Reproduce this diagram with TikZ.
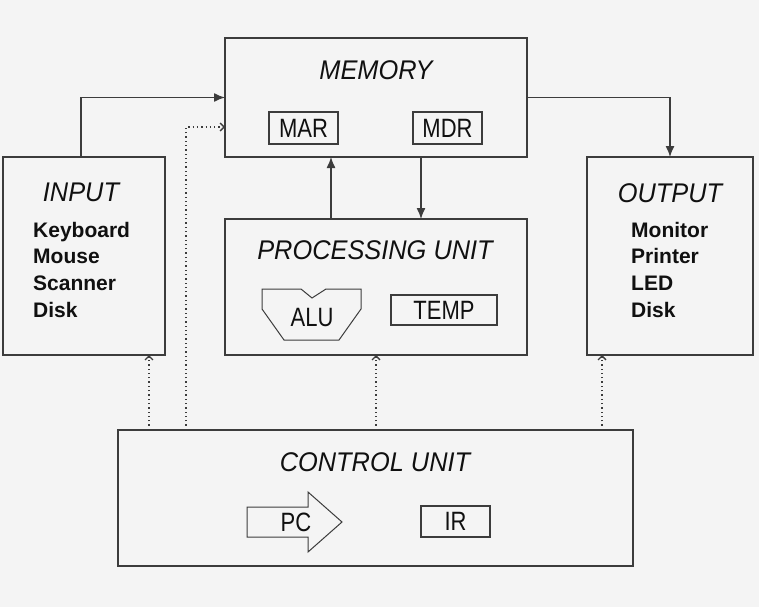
\documentclass[tikz,border=0pt]{standalone}
\usepackage{fontspec}
\setmainfont{Liberation Sans}
\newfontfamily\titlefont[FakeStretch=0.94]{Liberation Sans}
\newfontfamily\labfont[FakeStretch=0.83]{Liberation Sans}
\usetikzlibrary{arrows.meta}
\definecolor{bg}{HTML}{F4F4F4}
\definecolor{ln}{HTML}{3C3C3C}
\definecolor{tx}{HTML}{101010}
\begin{document}
\begin{tikzpicture}[x=1pt,y=-1pt,
  box/.style={draw=ln, line width=1.3pt, inner sep=0pt, outer sep=0pt},
  smallbox/.style={draw=ln, line width=1.2pt, inner sep=0pt, outer sep=0pt, text=tx, font=\labfont\fontsize{26.5}{28}\selectfont},
  title/.style={text=tx, inner sep=0pt, font=\titlefont\itshape\fontsize{27}{30}\selectfont},
  item/.style={text=tx, inner sep=0pt, anchor=base west, font=\bfseries\fontsize{21}{24}\selectfont},
  lab/.style={text=tx, inner sep=0pt, font=\labfont\fontsize{26.5}{28}\selectfont},
  shapeline/.style={draw=ln, line width=1pt},
  arr/.style={draw=ln, line width=1.3pt, -{Latex[length=11pt,width=9pt]}},
  dotarr/.style={draw=ln, line width=1.3pt, dash pattern=on 1.3pt off 3pt, -{Straight Barb[length=4pt,width=8pt]}}
]
\fill[bg] (0,0) rectangle (759,607);
\useasboundingbox (0,0) rectangle (759,607);

% main boxes
\node[box, minimum width=302pt, minimum height=119pt] (mem) at (376,97.5) {};
\node[box, minimum width=162pt, minimum height=198pt] (input) at (84,256) {};
\node[box, minimum width=166pt, minimum height=198pt] (output) at (670,256) {};
\node[box, minimum width=302pt, minimum height=136pt] (pu) at (376,287) {};
\node[box, minimum width=515pt, minimum height=136pt] (cu) at (375.5,498) {};

% titles
\node[title] (memt) at (376,70) {MEMORY};
\node[title] (int) at (81,192) {INPUT};
\node[title] (outt) at (670,193) {OUTPUT};
\node[title] (put) at (375,250) {PROCESSING UNIT};
\node[title] (cut) at (375,462) {CONTROL UNIT};

% items
\node[item] (kb) at (33,237) {Keyboard};
\node[item] (ms) at (33,263.7) {Mouse};
\node[item] (sc) at (33,290.4) {Scanner};
\node[item] (dk1) at (33,317) {Disk};
\node[item] (mo) at (631,237) {Monitor};
\node[item] (pr) at (631,263.7) {Printer};
\node[item] (led) at (631,290.4) {LED};
\node[item] (dk2) at (631,317) {Disk};

% registers
\node[smallbox, minimum width=69pt, minimum height=32pt] (mar) at (303.5,128) {MAR};
\node[smallbox, minimum width=69pt, minimum height=32pt] (mdr) at (447.5,128) {MDR};
\node[smallbox, minimum width=106pt, minimum height=30pt] (temp) at (444,310) {TEMP};
\node[smallbox, minimum width=69pt, minimum height=31pt] (ir) at (455.5,521.5) {IR};

% ALU shape
\draw[shapeline] (262,289) -- (301,289) -- (312,298) -- (326,289) -- (361,289) -- (361,309)
  -- (339,340) -- (284,340) -- (262,309) -- cycle;
\node[lab] (alu) at (312,318) {ALU};

% PC arrow shape
\draw[shapeline] (247,507) -- (308,507) -- (308,492) -- (342,522) -- (308,552) -- (308,537) -- (247,537) -- cycle;
\node[lab] (pc) at (296,522) {PC};

% connectors
\draw[arr] ([xshift=-3pt]input.north) |- (mem.west);
\draw[arr] (mem.east) -| (output.north);
\draw[arr] ([xshift=-45pt]pu.north) -- ([xshift=-45pt]mem.south);
\draw[arr] ([xshift=45pt]mem.south) -- ([xshift=45pt]pu.north);

\draw[dotarr] ([xshift=-189.5pt]cu.north) |- ([yshift=-29.5pt]mem.west);
\draw[dotarr] ([xshift=-226.5pt]cu.north) -- ([xshift=-226.5pt]cu.north |- input.south);
\draw[dotarr] (pu.south |- cu.north) -- (pu.south);
\draw[dotarr] ([xshift=226.5pt]cu.north) -- ([xshift=226.5pt]cu.north |- output.south);
\end{tikzpicture}
\end{document}
